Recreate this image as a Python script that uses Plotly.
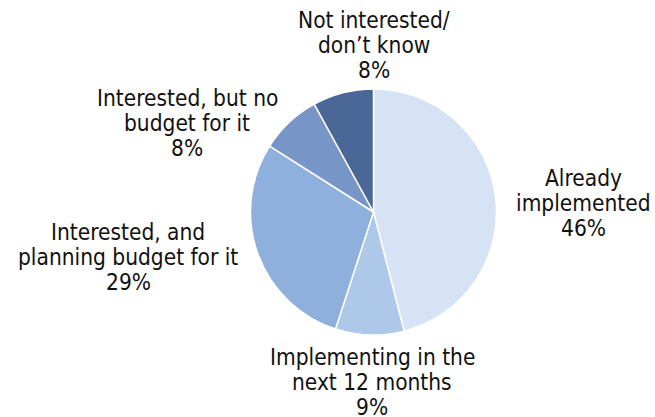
import plotly.graph_objects as go

labels = ["Already implemented", "Implementing in the next 12 months",
          "Interested, and planning budget for it", "Interested, but no budget for it",
          "Not interested/ don't know"]
label_lines = [["Already", "implemented"], ["Implementing in the", "next 12 months"],
               ["Interested, and", "planning budget for it"], ["Interested, but no", "budget for it"],
               ["Not interested/", "don\u2019t know"]]
values = [46, 9, 29, 8, 8]
colors = ["#d5e3f4", "#adc8e8", "#8fb0dc", "#7795c6", "#4a6797"]

W, H = 655, 417
fig = go.Figure(go.Pie(
    labels=labels, values=values, sort=False, direction="clockwise", rotation=0,
    marker=dict(colors=colors, line=dict(color="white", width=1.5)),
    textinfo="none", hoverinfo="label+percent", showlegend=False,
    domain=dict(x=[250 / W, 497 / W], y=[1 - 335 / H, 1 - 89 / H]),
))

# label centers (middle line) in pixels
centers = [(583, 203), (372, 382), (128, 257), (187, 123), (374, 45)]
step = 25
for lines, v, (cx, cy) in zip(label_lines, values, centers):
    all_lines = lines + [f"{v}%"]
    n = len(all_lines)
    for i, ln in enumerate(all_lines):
        y = cy + (i - (n - 1) / 2) * step
        fig.add_annotation(x=cx / W, y=1 - y / H, xref="paper", yref="paper",
                           text=ln, showarrow=False,
                           xanchor="center", yanchor="middle", align="center",
                           font=dict(family="DejaVu Sans Condensed, sans-serif", size=22.5, color="#111111"))

fig.update_layout(width=W, height=H, margin=dict(l=0, r=0, t=0, b=0),
                  paper_bgcolor="white", plot_bgcolor="white")
fig.write_html("out.html")
